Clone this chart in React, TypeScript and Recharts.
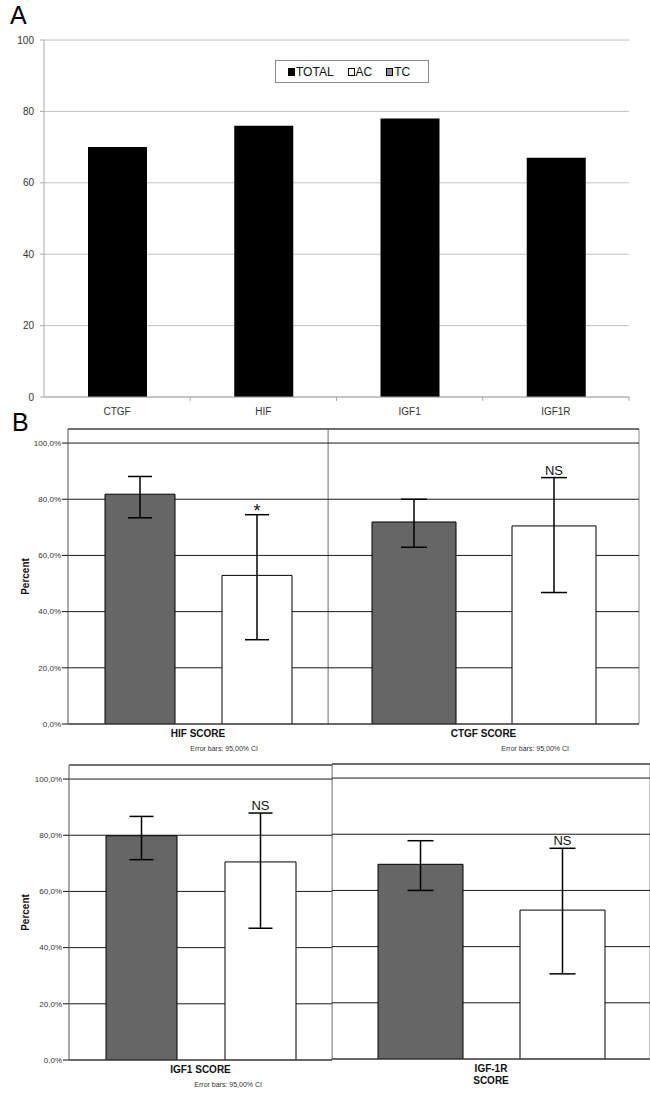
import React from 'react';
import { BarChart, Bar, XAxis, YAxis, CartesianGrid, Legend, ErrorBar, LabelList } from 'recharts';

// Panel A: share of positive cases per marker
const genes = ['CTGF', 'HIF', 'IGF1', 'IGF1R'];
const totalPct = [70, 76, 78, 67];
const totalTicks = [0, 20, 40, 60, 80, 100];
const legendItems = [
  { label: 'TOTAL', color: '#000000' },
  { label: 'AC', color: '#ffffff' },
  { label: 'TC', color: '#8c8c8c' },
];

// Panel B: TC (dark) vs AC (white) scores with 95% CI
const scoreNames = ['HIF SCORE', 'CTGF SCORE', 'IGF1 SCORE', 'IGF-1R SCORE'];
const tcMean = [81.8, 71.9, 79.8, 69.3];
const tcLow = [73.4, 62.9, 71.3, 60.0];
const tcHigh = [88.1, 80.0, 86.7, 77.7];
const acMean = [52.9, 70.5, 70.5, 53.0];
const acLow = [30.0, 46.8, 46.9, 30.3];
const acHigh = [74.5, 87.7, 87.9, 75.0];
const sigMarks = ['*', 'NS', 'NS', 'NS'];
const scoreTicks = [0, 20, 40, 60, 80, 100];
const errorNote = 'Error bars: 95,00% CI';

const totalData = genes.map((g, i) => ({ gene: g, total: totalPct[i] }));

const scoreRows = (i: number) => [
  {
    name: scoreNames[i],
    tc: tcMean[i],
    ac: acMean[i],
    tcErr: [tcMean[i] - tcLow[i], tcHigh[i] - tcMean[i]],
    acErr: [acMean[i] - acLow[i], acHigh[i] - acMean[i]],
    acHigh: acHigh[i],
    mark: sigMarks[i],
  },
];

const pct = (v: number) => `${v.toFixed(1).replace('.', ',')}%`;

const GeneTick = (p: any) => {
  const { x, y, payload } = p;
  const half = payload && payload.offset ? payload.offset : 0;
  return (
    <g>
      {half ? <line x1={x + half} x2={x + half} y1={y} y2={y + 4} stroke="#aaaaaa" /> : null}
      <text x={x} y={y + 18} textAnchor="middle" fontSize={10} fill="#333">
        {payload.value}
      </text>
    </g>
  );
};

const ScoreTick = (p: any) => {
  const { x, y, payload, note, wrap } = p;
  const lines = wrap ? String(payload.value).split(' ') : [String(payload.value)];
  const half = payload && payload.offset ? payload.offset : 130;
  return (
    <g>
      {lines.map((l, i) => (
        <text key={i} x={x} y={y + 13 + i * 12} textAnchor="middle" fontSize={10} fontWeight="bold" fill="#111">
          {l}
        </text>
      ))}
      {note ? (
        <text x={x + half - 70} y={y + 27} textAnchor="end" fontSize={7} fill="#333">
          {errorNote}
        </text>
      ) : null}
    </g>
  );
};

const SigMark = (p: any) => {
  const { x, y, width, height, value, index, rows } = p;
  const r = rows[index ?? 0];
  if (!r || !r.mark) return null;
  const base = Number(y) + Number(height);
  const top = base - (Number(value) / r.ac) * Number(height);
  const star = r.mark === '*';
  return (
    <text x={Number(x) + Number(width) / 2} y={top - (star ? -2 : 3)} textAnchor="middle" fontSize={star ? 18 : 13} fill="#111">
      {r.mark}
    </text>
  );
};

const LegendBox = () => (
  <div
    style={{
      border: '1px solid #8c8c8c',
      height: 21,
      width: 140,
      display: 'flex',
      alignItems: 'center',
      paddingLeft: 12,
      boxSizing: 'content-box',
      background: '#fff',
      fontSize: 12,
      color: '#111',
    }}
  >
    {legendItems.map((it) => (
      <span key={it.label} style={{ display: 'flex', alignItems: 'center', marginRight: 14 }}>
        <span style={{ width: 5, height: 6, border: '1px solid #000', background: it.color, marginRight: 1 }} />
        {it.label}
      </span>
    ))}
  </div>
);

const frameTop = (g: any) => (g && g.offset ? [g.offset.top] : []);
const frameSides = (g: any) => (g && g.offset ? [g.offset.left, g.offset.left + g.offset.width] : []);

const panels = [
  { i: 0, left: 0, top: 420, width: 330, height: 340, margin: { top: 9, right: 2, left: 0, bottom: 0 }, yAxis: 68, xh: 36, barSize: 70, barGap: 47, cap: 12, note: true, wrap: false },
  { i: 1, left: 328, top: 420, width: 322, height: 340, margin: { top: 9, right: 11, left: 0, bottom: 0 }, yAxis: 0, xh: 36, barSize: 84, barGap: 56, cap: 13, note: true, wrap: false },
  { i: 2, left: 0, top: 755, width: 334, height: 339, margin: { top: 10, right: 2, left: 0, bottom: 0 }, yAxis: 69, xh: 34, barSize: 71, barGap: 48, cap: 12, note: true, wrap: false },
  { i: 3, left: 332, top: 754, width: 318, height: 340, margin: { top: 10, right: 0, left: 0, bottom: 0 }, yAxis: 0, xh: 35, barSize: 85, barGap: 57, cap: 13, note: false, wrap: true },
];

const ScorePanel = ({ cfg }: { cfg: any }) => {
  const rows = scoreRows(cfg.i);
  return (
    <div style={{ position: 'absolute', left: cfg.left, top: cfg.top }}>
      <BarChart width={cfg.width} height={cfg.height} data={rows} margin={cfg.margin} barSize={cfg.barSize} barGap={cfg.barGap}>
        <CartesianGrid stroke="#8a8a8a" horizontalCoordinatesGenerator={frameTop} verticalCoordinatesGenerator={frameSides} />
        <CartesianGrid stroke="#1a1a1a" vertical={false} />
        <XAxis
          dataKey="name"
          height={cfg.xh}
          tickLine={false}
          tickSize={0}
          tickMargin={0}
          axisLine={{ stroke: '#444' }}
          interval={0}
          tick={(p: any) => <ScoreTick {...p} note={cfg.note} wrap={cfg.wrap} />}
        />
        <YAxis
          hide={!cfg.yAxis}
          width={cfg.yAxis || 60}
          domain={[0, 105]}
          ticks={scoreTicks}
          allowDataOverflow
          tickFormatter={pct}
          tickSize={6}
          tickMargin={1}
          tickLine={{ stroke: '#111' }}
          axisLine={{ stroke: '#8a8a8a' }}
          tick={{ fontSize: 8, fill: '#333' }}
          label={{
            value: 'Percent',
            angle: -90,
            position: 'insideLeft',
            offset: 25,
            fontSize: 10,
            fontWeight: 'bold',
            fill: '#111',
            style: { textAnchor: 'middle', fontWeight: 'bold' },
          }}
        />
        <Bar dataKey="tc" fill="#666666" stroke="#000" strokeWidth={1} isAnimationActive={false}>
          <ErrorBar dataKey="tcErr" width={cfg.cap} stroke="#000" strokeWidth={1.5} />
        </Bar>
        <Bar dataKey="ac" fill="#ffffff" stroke="#000" strokeWidth={1} isAnimationActive={false}>
          <ErrorBar dataKey="acErr" width={cfg.cap} stroke="#000" strokeWidth={1.5} />
          <LabelList dataKey="acHigh" content={(p: any) => <SigMark {...p} rows={rows} />} />
        </Bar>
      </BarChart>
    </div>
  );
};

export default function App() {
  return (
    <div
      style={{
        position: 'absolute',
        left: 0,
        top: 0,
        width: 650,
        height: 1094,
        background: '#fff',
        fontFamily: '"Liberation Sans", Arial, sans-serif',
        overflow: 'hidden',
      }}
    >
      <div style={{ position: 'absolute', left: 10, top: 3, fontSize: 25, lineHeight: 1 }}>A</div>
      <div style={{ position: 'absolute', left: 0, top: 0 }}>
        <BarChart width={650} height={420} data={totalData} margin={{ top: 40, right: 21, left: 0, bottom: 0 }}>
          <CartesianGrid stroke="#c0c0c0" vertical={false} />
          <XAxis
            dataKey="gene"
            height={23}
            tickLine={false}
            tickSize={0}
            tickMargin={0}
            axisLine={{ stroke: '#aaaaaa' }}
            tick={(p: any) => <GeneTick {...p} />}
          />
          <YAxis
            width={44}
            domain={[0, 100]}
            ticks={totalTicks}
            tickSize={4}
            tickMargin={6}
            tickLine={{ stroke: '#aaaaaa' }}
            axisLine={{ stroke: '#aaaaaa' }}
            tick={{ fontSize: 10, fill: '#333' }}
          />
          <Legend
            layout="horizontal"
            verticalAlign="middle"
            align="center"
            wrapperStyle={{ left: 275, top: 60, width: 154, height: 23 }}
            content={() => <LegendBox />}
          />
          <Bar dataKey="total" name="TOTAL" fill="#000000" barSize={59} isAnimationActive={false} />
        </BarChart>
      </div>
      <div style={{ position: 'absolute', left: 12, top: 410, fontSize: 25, lineHeight: 1 }}>B</div>
      {panels.map((cfg) => (
        <ScorePanel key={cfg.i} cfg={cfg} />
      ))}
    </div>
  );
}
